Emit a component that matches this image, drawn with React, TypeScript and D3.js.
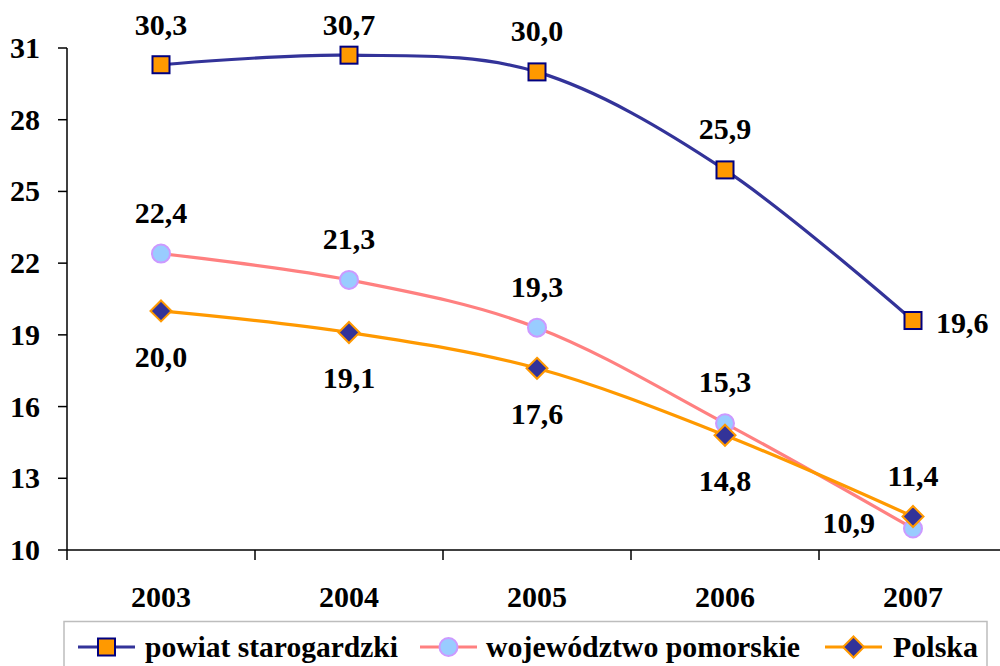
import React from "react";
import * as d3 from "d3";

const years = ["2003", "2004", "2005", "2006", "2007"];
const powiat = [30.3, 30.7, 30.0, 25.9, 19.6];
const pomorskie = [22.4, 21.3, 19.3, 15.3, 10.9];
const polska = [20.0, 19.1, 17.6, 14.8, 11.4];
const yTicks = [10, 13, 16, 19, 22, 25, 28, 31];
const seriesNames = ["powiat starogardzki", "województwo pomorskie", "Polska"];

const powiatPos = ["above", "above", "above", "above", "right"];
const pomorskiePos = ["above", "above", "above", "above", "left"];
const polskaPos = ["below", "below", "below", "below", "above"];

const W = 1000;
const H = 666;
const FONT = "Liberation Serif";
const FS = 30;

const x = d3.scaleBand<string>().domain(years).range([67, 1007]);
const y = d3.scaleLinear().domain([10, 31]).range([550, 48]);
const cx = (i: number) => (x(years[i]) as number) + x.bandwidth() / 2;

const line = d3
  .line<number>()
  .x((_, i) => cx(i))
  .y((v) => y(v))
  .curve(d3.curveCatmullRom.alpha(0));

const fmt = (v: number) => v.toFixed(1).replace(".", ",");

function Marker({ kind, px, py }: { kind: string; px: number; py: number }) {
  if (kind === "square")
    return <rect x={px - 8.5} y={py - 8.5} width={17} height={17} fill="#FF9900" stroke="#000080" strokeWidth={2} />;
  if (kind === "circle")
    return <circle cx={px} cy={py} r={9} fill="#99CCFF" stroke="#CC99FF" strokeWidth={2} />;
  const s = 10.5;
  return (
    <path
      d={`M${px},${py - s}L${px + s},${py}L${px},${py + s}L${px - s},${py}Z`}
      fill="#333399"
      stroke="#FF9900"
      strokeWidth={2}
    />
  );
}

function Label({ v, i, pos }: { v: number; i: number; pos: string }) {
  const px = cx(i);
  const py = y(v);
  let tx = px;
  let ty = py;
  let anchor: "middle" | "start" | "end" = "middle";
  if (pos === "above") ty = Math.max(35, py - 31);
  else if (pos === "below") ty = py + 56;
  else if (pos === "right") {
    tx = px + 23;
    ty = py + 12;
    anchor = "start";
  } else if (pos === "left") {
    tx = px - 38;
    ty = py + 5;
    anchor = "end";
  }
  return (
    <text x={tx} y={ty} textAnchor={anchor} fontFamily={FONT} fontWeight="bold" fontSize={FS} fill="#000">
      {fmt(v)}
    </text>
  );
}

const series = [
  { name: seriesNames[0], data: powiat, pos: powiatPos, color: "#333399", marker: "square" },
  { name: seriesNames[1], data: pomorskie, pos: pomorskiePos, color: "#FF8080", marker: "circle" },
  { name: seriesNames[2], data: polska, pos: polskaPos, color: "#FF9900", marker: "diamond" },
];

const legendItems = [
  { x1: 78, x2: 135, tx: 145, w: 253 },
  { x1: 420, x2: 477, tx: 486, w: 314 },
  { x1: 825, x2: 882, tx: 893, w: 85 },
];

export default function App() {
  return (
    <svg width={W} height={H} style={{ position: "absolute", left: 0, top: 0, background: "#fff" }}>
      <rect x={0} y={0} width={W} height={H} fill="#fff" />
      {/* Y axis */}
      <line x1={67} x2={67} y1={y(31)} y2={y(10)} stroke="#000" strokeWidth={1.5} />
      {yTicks.map((t) => (
        <g key={t}>
          <line x1={58} x2={67} y1={y(t)} y2={y(t)} stroke="#000" strokeWidth={1.5} />
          <text x={40} y={y(t) + 10} textAnchor="end" fontFamily={FONT} fontWeight="bold" fontSize={FS}>
            {t}
          </text>
        </g>
      ))}
      {/* X axis */}
      <line x1={67} x2={1007} y1={y(10)} y2={y(10)} stroke="#000" strokeWidth={1.5} />
      {years.concat(["end"]).map((yr, i) => {
        const bx = 67 + i * x.bandwidth();
        return <line key={"t" + i} x1={bx} x2={bx} y1={y(10)} y2={y(10) + 10} stroke="#000" strokeWidth={1.5} />;
      })}
      {years.map((yr, i) => (
        <text key={yr} x={cx(i)} y={607} textAnchor="middle" fontFamily={FONT} fontWeight="bold" fontSize={FS}>
          {yr}
        </text>
      ))}
      {/* Lines */}
      {series.map((s) => (
        <path key={s.name + "l"} d={line(s.data) as string} fill="none" stroke={s.color} strokeWidth={3.2} />
      ))}
      {series.map((s) =>
        s.data.map((v, i) => <Marker key={s.name + i} kind={s.marker} px={cx(i)} py={y(v)} />)
      )}
      {series.map((s) => s.data.map((v, i) => <Label key={s.name + "lb" + i} v={v} i={i} pos={s.pos[i]} />))}
      {/* Legend */}
      <rect x={64} y={621.5} width={923} height={70} fill="#fff" stroke="#BDBDBD" strokeWidth={1.5} />
      {series.map((s, k) => {
        const it = legendItems[k];
        const my = 647;
        return (
          <g key={s.name + "lg"}>
            <line x1={it.x1} x2={it.x2} y1={my} y2={my} stroke={s.color} strokeWidth={3.2} />
            <Marker kind={s.marker} px={(it.x1 + it.x2) / 2} py={my} />
            <text
              x={it.tx}
              y={657}
              fontFamily={FONT}
              fontWeight="bold"
              fontSize={FS}
              textLength={it.w}
              lengthAdjust="spacingAndGlyphs"
            >
              {s.name}
            </text>
          </g>
        );
      })}
    </svg>
  );
}
